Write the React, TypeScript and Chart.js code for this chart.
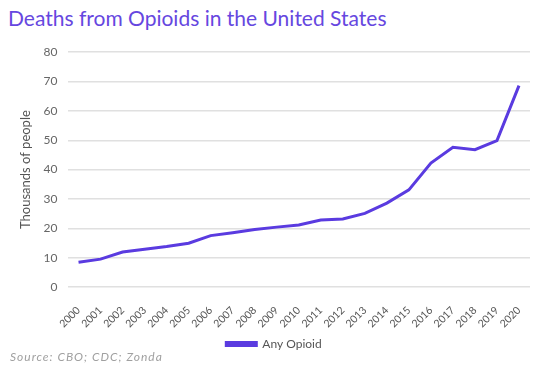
import React, { useEffect, useRef } from "react";
import { Chart, registerables } from "chart.js";

Chart.register(...registerables);

const years = ["2000","2001","2002","2003","2004","2005","2006","2007","2008","2009","2010","2011","2012","2013","2014","2015","2016","2017","2018","2019","2020"];
const anyOpioid = [8.4, 9.5, 11.9, 12.9, 13.8, 14.9, 17.5, 18.5, 19.6, 20.4, 21.1, 22.8, 23.2, 25.1, 28.6, 33.1, 42.2, 47.6, 46.8, 49.9, 68.6];
const seriesLabel = "Any Opioid";
const titleText = "Deaths from Opioids in the United States";
const yTitle = "Thousands of people";
const sourceText = "Source: CBO; CDC; Zonda";

const FONT = "Lato, 'Noto Sans', sans-serif";
const LINE = "#5a3be0";

export default function App() {
  const ref = useRef<HTMLCanvasElement>(null);
  useEffect(() => {
    document.body.style.margin = "0";
    const chart = new Chart(ref.current!, {
      type: "line",
      data: {
        labels: years,
        datasets: [
          {
            label: seriesLabel,
            data: anyOpioid,
            borderColor: LINE,
            backgroundColor: LINE,
            borderWidth: 3,
            pointRadius: 0,
            tension: 0,
          },
        ],
      },
      options: {
        animation: false,
        responsive: false,
        maintainAspectRatio: false,
        layout: { padding: { left: 18, right: 18, top: 8, bottom: 0 } },
        plugins: {
          title: { display: false },
          tooltip: { enabled: false },
          legend: {
            display: true,
            position: "bottom",
            labels: {
              boxWidth: 30,
              boxHeight: 3,
              color: "#555",
              font: { family: FONT, size: 12 },
              padding: 9,
            },
          },
        },
        scales: {
          x: {
            offset: true,
            grid: { display: false },
            border: { display: false },
            afterFit: (scale: any) => {
              scale.height = 42;
            },
            ticks: {
              color: "#555",
              font: { family: FONT, size: 10.5 },
              minRotation: 45,
              maxRotation: 45,
              autoSkip: false,
              padding: 9,
            },
          },
          y: {
            min: 0,
            max: 80,
            border: { display: false },
            grid: { color: "#e0e0e0", lineWidth: 1.5, drawTicks: false },
            ticks: {
              stepSize: 10,
              color: "#666",
              font: { family: FONT, size: 12 },
              padding: 10,
            },
            title: {
              display: true,
              text: yTitle,
              color: "#555",
              font: { family: FONT, size: 13 },
              padding: 0,
            },
          },
        },
      },
    });
    return () => chart.destroy();
  }, []);

  return (
    <div style={{ position: "relative", width: 548, height: 366, background: "#fff", overflow: "hidden" }}>
      <div
        style={{
          position: "absolute",
          left: 8,
          top: 5,
          fontFamily: FONT,
          fontSize: 21,
          color: "#6647e0",
          whiteSpace: "nowrap",
        }}
      >
        {titleText}
      </div>
      <canvas
        ref={ref}
        width={548}
        height={325}
        style={{ position: "absolute", left: 0, top: 35, width: 548, height: 325 }}
      />
      <div
        style={{
          position: "absolute",
          left: 10,
          top: 349,
          fontFamily: FONT,
          fontSize: 12,
          letterSpacing: 1,
          fontStyle: "italic",
          color: "#a0a0a0",
          whiteSpace: "nowrap",
        }}
      >
        {sourceText}
      </div>
    </div>
  );
}
